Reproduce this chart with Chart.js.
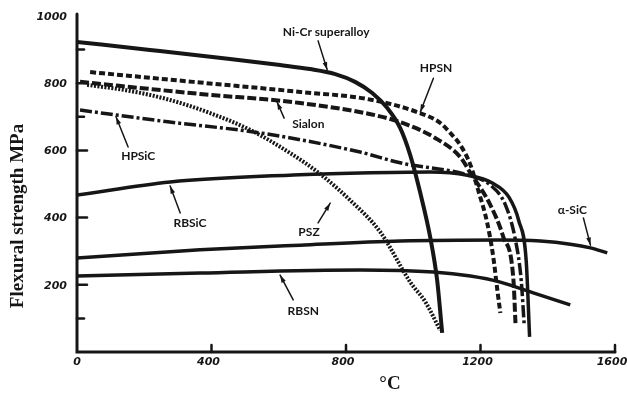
<!DOCTYPE html>
<html lang="en">
<head>
  <meta charset="UTF-8">
  <title>Flexural strength vs temperature</title>
  <script src="https://cdn.jsdelivr.net/npm/chart.js"></script>
  <style>
    body { margin: 0; background: #fff; }
    #wrap { width: 627px; height: 410px; }
  </style>
</head>
<body>
  <div id="wrap"><canvas id="strengthChart" width="627" height="410"></canvas></div>
  <script>
    // temperature (°C) / flexural strength (MPa)
    const niCrT = [0, 217, 455, 604, 693, 768, 827, 878, 923, 961, 991, 1021, 1051, 1071, 1086];
    const niCrS = [923, 899, 872, 854, 842, 827, 804, 771, 726, 667, 586, 473, 339, 214, 57];

    const hpsnT = [39, 366, 664, 863, 1012, 1080, 1110, 1140, 1170, 1193, 1220, 1238, 1250, 1259];
    const hpsnS = [833, 802, 774, 753, 714, 682, 652, 616, 557, 482, 384, 283, 185, 116];

    const sialonT = [9, 366, 664, 911, 991, 1060, 1140, 1170, 1229, 1268, 1298, 1304];
    const sialonS = [804, 768, 741, 699, 673, 640, 580, 533, 438, 342, 214, 86];

    const hpsicT = [9, 270, 545, 842, 961, 1161, 1229, 1274, 1304, 1321, 1330];
    const hpsicS = [720, 685, 652, 595, 563, 527, 497, 438, 333, 214, 80];

    const rbsicT = [0, 277, 643, 842, 1051, 1161, 1235, 1285, 1314, 1336, 1346];
    const rbsicS = [467, 506, 527, 533, 536, 526, 503, 460, 390, 270, 45];

    const pszT = [30, 158, 277, 396, 515, 634, 723, 812, 902, 991, 1036, 1080];
    const pszS = [795, 777, 750, 711, 661, 592, 530, 452, 357, 208, 149, 65];

    const aSicT = [0, 366, 664, 961, 1259, 1378, 1467, 1527, 1577];
    const aSicS = [280, 304, 318, 330, 333, 330, 321, 310, 295];

    const rbsnT = [0, 366, 842, 1060, 1170, 1259, 1357, 1467];
    const rbsnS = [226, 235, 244, 238, 226, 208, 176, 140];

    const xTicks = [0, 400, 800, 1200, 1600];
    const yTicks = [0, 200, 400, 600, 800, 1000];
    const yMinorTicks = [100, 700, 900];

    // curve labels: text position and arrow (tail -> head), in data units
    const curveLabels = [
      { text: 'Ni-Cr superalloy', t: 741, s: 952, a: [717, 926, 744, 840] },
      { text: 'HPSN', t: 1068, s: 845, a: [1060, 815, 1021, 714] },
      { text: 'Sialon', t: 688, s: 679, a: [616, 696, 595, 744] },
      { text: 'HPSiC', t: 182, s: 583, a: [152, 610, 116, 700] },
      { text: 'RBSiC', t: 336, s: 384, a: [307, 414, 277, 494] },
      { text: 'PSZ', t: 690, s: 357, a: [717, 384, 753, 443] },
      { text: 'RBSN', t: 673, s: 122, a: [643, 155, 604, 229] },
      { text: 'α-SiC', t: 1473, s: 423, a: [1506, 399, 1527, 318] }
    ];

    const ink = '#161616';
    const toPoints = (ts, ss) => ts.map((t, i) => ({ x: t, y: ss[i] }));

    function series(label, ts, ss, dash, width) {
      return {
        label: label,
        data: toPoints(ts, ss),
        borderColor: ink,
        borderWidth: width || 3.5,
        borderDash: dash || [],
        borderCapStyle: 'butt',
        pointRadius: 0,
        fill: false,
        cubicInterpolationMode: 'monotone'
      };
    }

    const axesPlugin = {
      id: 'handAxes',
      afterDraw(chart) {
        const ctx = chart.ctx;
        const xs = chart.scales.x;
        const ys = chart.scales.y;
        const x0 = xs.getPixelForValue(0);
        const y0 = ys.getPixelForValue(0);

        ctx.save();
        ctx.strokeStyle = ink;
        ctx.fillStyle = ink;
        ctx.lineCap = 'round';

        // axis lines
        ctx.lineWidth = 3;
        ctx.beginPath();
        ctx.moveTo(x0, ys.getPixelForValue(1006));
        ctx.lineTo(x0, y0);
        ctx.lineTo(xs.getPixelForValue(1600), y0);
        ctx.stroke();

        // ticks, drawn inward
        ctx.lineWidth = 2.5;
        yTicks.slice(1, 5).forEach(v => {
          const py = ys.getPixelForValue(v);
          ctx.beginPath(); ctx.moveTo(x0, py); ctx.lineTo(x0 + 10, py); ctx.stroke();
        });
        yMinorTicks.forEach(v => {
          const py = ys.getPixelForValue(v);
          ctx.beginPath(); ctx.moveTo(x0, py); ctx.lineTo(x0 + 7, py); ctx.stroke();
        });
        xTicks.slice(1).forEach(v => {
          const px = xs.getPixelForValue(v);
          ctx.beginPath(); ctx.moveTo(px, y0); ctx.lineTo(px, y0 - 7); ctx.stroke();
        });

        // tick labels
        ctx.font = 'bold italic 11px "DejaVu Sans"';
        ctx.textAlign = 'right';
        ctx.textBaseline = 'middle';
        yTicks.slice(1).forEach(v => {
          ctx.fillText(String(v), x0 - 10, ys.getPixelForValue(v) + 1);
        });
        ctx.textAlign = 'center';
        ctx.textBaseline = 'top';
        xTicks.forEach(v => {
          ctx.fillText(String(v), xs.getPixelForValue(v) + (v === 0 ? 0 : -3), y0 + 5);
        });

        // axis titles
        ctx.font = 'bold 19px "Liberation Serif"';
        ctx.textAlign = 'center';
        ctx.textBaseline = 'middle';
        ctx.fillText('°C', 390, 384);
        ctx.save();
        ctx.translate(18, 216);
        ctx.rotate(-Math.PI / 2);
        ctx.fillText('Flexural strength MPa', 0, 0);
        ctx.restore();

        // curve labels with arrows
        ctx.font = 'bold 12px "Lato"';
        curveLabels.forEach(l => {
          ctx.fillText(l.text, xs.getPixelForValue(l.t), ys.getPixelForValue(l.s));
          const ax = xs.getPixelForValue(l.a[0]), ay = ys.getPixelForValue(l.a[1]);
          const bx = xs.getPixelForValue(l.a[2]), by = ys.getPixelForValue(l.a[3]);
          ctx.lineWidth = 1.5;
          ctx.beginPath(); ctx.moveTo(ax, ay); ctx.lineTo(bx, by); ctx.stroke();
          const ang = Math.atan2(by - ay, bx - ax);
          ctx.beginPath();
          ctx.moveTo(bx, by);
          ctx.lineTo(bx - 8 * Math.cos(ang - 0.3), by - 8 * Math.sin(ang - 0.3));
          ctx.lineTo(bx - 8 * Math.cos(ang + 0.3), by - 8 * Math.sin(ang + 0.3));
          ctx.closePath();
          ctx.fill();
        });
        ctx.restore();
      }
    };

    new Chart(document.getElementById('strengthChart'), {
      type: 'line',
      data: {
        datasets: [
          series('Ni-Cr superalloy', niCrT, niCrS, [], 4),
          series('HPSN', hpsnT, hpsnS, [6, 3], 4),
          series('Sialon', sialonT, sialonS, [9, 3], 4),
          series('HPSiC', hpsicT, hpsicS, [12, 3, 3, 3], 3.5),
          series('RBSiC', rbsicT, rbsicS, [], 3.5),
          series('PSZ', pszT, pszS, [2, 1.5], 4),
          series('α-SiC', aSicT, aSicS, [], 3.5),
          series('RBSN', rbsnT, rbsnS, [], 3.5)
        ]
      },
      options: {
        responsive: false,
        animation: false,
        layout: { padding: { left: 77, right: 12, top: 16, bottom: 58 } },
        scales: {
          x: { type: 'linear', min: 0, max: 1600, display: false },
          y: { type: 'linear', min: 0, max: 1000, display: false }
        },
        plugins: {
          legend: { display: false },
          tooltip: { enabled: false }
        }
      },
      plugins: [axesPlugin]
    });
  </script>
</body>
</html>
